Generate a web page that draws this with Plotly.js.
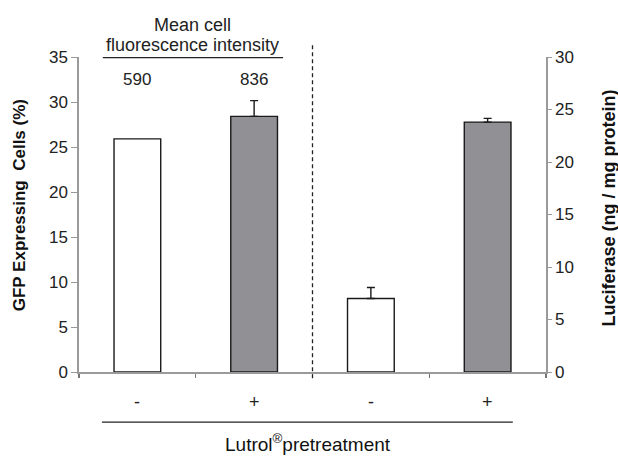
<!DOCTYPE html>
<html>
<head>
<meta charset="utf-8">
<script src="https://cdn.plot.ly/plotly-3.0.1.min.js"></script>
<style>html,body{margin:0;padding:0;background:#fff;}#chart{width:618px;height:456px;}</style>
</head>
<body>
<div id="chart"></div>
<script>
// ---- data ----
const categories = ['-', '+', '-', '+'];
const gfpX = [0, 1];
const gfpValues = [25.9, 28.4];
const gfpErr = [1.75];
const lucX = [2, 3];
const lucValues = [7.0, 23.8];
const lucErr = [1.05, 0.35];
const mfiValues = ['590', '836'];
const barFill = ['#ffffff', '#919195'];

const FONT = 'Liberation Sans, Arial, sans-serif';
const AXIS_GREY = '#9a9a9a';
const TXT = '#222';

const traces = [
  {
    type: 'bar', x: gfpX, y: gfpValues, yaxis: 'y', width: 0.4,
    marker: {color: barFill, line: {color: '#1a1a1a', width: 1.4}},
    hoverinfo: 'none', showlegend: false
  },
  {
    // error bar for the "+" GFP bar only (the "-" bar has none in the figure)
    type: 'scatter', mode: 'markers', x: gfpX.slice(1), y: gfpValues.slice(1), yaxis: 'y',
    marker: {size: 0.1, opacity: 0},
    error_y: {type: 'data', symmetric: false, array: gfpErr, arrayminus: [0],
              color: '#1a1a1a', thickness: 1.4, width: 4, visible: true},
    hoverinfo: 'none', showlegend: false
  },
  {
    type: 'bar', x: lucX, y: lucValues, yaxis: 'y2', width: 0.4,
    marker: {color: barFill, line: {color: '#1a1a1a', width: 1.4}},
    error_y: {type: 'data', symmetric: false, array: lucErr, arrayminus: [0, 0],
              color: '#1a1a1a', thickness: 1.4, width: 4, visible: true},
    hoverinfo: 'none', showlegend: false
  }
];

const annotations = [];
categories.forEach((c, i) => {
  annotations.push({x: i, xref: 'x', y: -0.094, yref: 'paper', text: c, showarrow: false,
    font: {family: FONT, size: 18, color: TXT}, xanchor: 'center', yanchor: 'middle'});
});
mfiValues.forEach((v, i) => {
  annotations.push({x: gfpX[i], xref: 'x', y: 0.93, yref: 'paper', text: v, showarrow: false,
    font: {family: FONT, size: 17, color: TXT}, xanchor: 'center', yanchor: 'middle'});
});
annotations.push({x: 0.243, xref: 'paper', y: 1.10, yref: 'paper', text: 'Mean cell', showarrow: false,
  font: {family: FONT, size: 18, color: TXT}, xanchor: 'center', yanchor: 'middle'});
annotations.push({x: 0.243, xref: 'paper', y: 1.037, yref: 'paper', text: 'fluorescence intensity', showarrow: false,
  font: {family: FONT, size: 18, color: TXT}, xanchor: 'center', yanchor: 'middle'});
annotations.push({x: 0.49, xref: 'paper', y: -0.226, yref: 'paper', text: 'Lutrol<sup>®</sup>pretreatment', showarrow: false,
  font: {family: FONT, size: 19, color: '#111'}, xanchor: 'center', yanchor: 'middle'});
annotations.push({x: -0.128, xref: 'paper', y: 0.53, yref: 'paper', text: '<b>GFP Expressing  Cells (%)</b>', showarrow: false,
  textangle: -90, font: {family: FONT, size: 17, color: '#111'}, xanchor: 'center', yanchor: 'middle'});
annotations.push({x: 1.134, xref: 'paper', y: 0.521, yref: 'paper', text: '<b>Luciferase (ng / mg protein)</b>', showarrow: false,
  textangle: -90, font: {family: FONT, size: 18, color: '#111'}, xanchor: 'center', yanchor: 'middle'});

const layout = {
  width: 618, height: 456,
  margin: {l: 79, r: 72, t: 57, b: 84, pad: 0},
  paper_bgcolor: '#fff', plot_bgcolor: '#fff',
  barmode: 'overlay',
  font: {family: FONT, size: 17, color: TXT},
  xaxis: {
    range: [-0.5, 3.5], tickmode: 'array', tickvals: [-0.5, 0.5, 1.5, 2.5, 3.5], showticklabels: false,
    ticks: 'outside', ticklen: 4, tickcolor: '#777', tickwidth: 1.3,
    showline: true, linecolor: AXIS_GREY, linewidth: 2, showgrid: false, zeroline: false, fixedrange: true
  },
  yaxis: {
    range: [0, 35], tickvals: [0, 5, 10, 15, 20, 25, 30, 35], ticks: 'outside', ticklen: 6, tickcolor: AXIS_GREY,
    showline: true, linecolor: AXIS_GREY, linewidth: 1.6, showgrid: false, zeroline: false,
    tickfont: {family: FONT, size: 17, color: TXT}, fixedrange: true
  },
  yaxis2: {
    range: [0, 30], tickvals: [0, 5, 10, 15, 20, 25, 30], ticks: 'outside', ticklen: 4, tickcolor: AXIS_GREY,
    overlaying: 'y', side: 'right', anchor: 'x',
    showline: true, linecolor: AXIS_GREY, linewidth: 1.6, showgrid: false, zeroline: false,
    tickfont: {family: FONT, size: 17, color: TXT}, fixedrange: true
  },
  shapes: [
    {type: 'line', xref: 'x', yref: 'paper', x0: 1.5, x1: 1.5, y0: -0.02, y1: 1.044,
     line: {color: '#222', width: 1.3, dash: '4px,3px'}},
    {type: 'line', xref: 'paper', yref: 'paper', x0: 0.051, x1: 0.437, y0: 0.998, y1: 0.998,
     line: {color: '#222', width: 1.4}},
    {type: 'line', xref: 'paper', yref: 'paper', x0: 0.049, x1: 0.929, y0: -0.159, y1: -0.159,
     line: {color: '#222', width: 1.4}}
  ],
  annotations: annotations
};

Plotly.newPlot('chart', traces, layout, {displayModeBar: false, staticPlot: true});
</script>
</body>
</html>
